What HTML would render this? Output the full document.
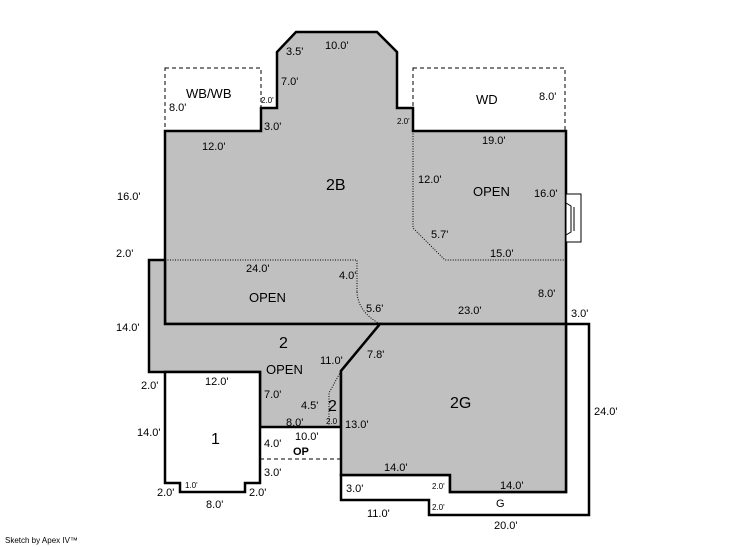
<!DOCTYPE html>
<html><head><meta charset="utf-8"><style>
html,body{margin:0;padding:0;background:#fff;}
svg{display:block;}
text{font-family:"Liberation Sans",Arial,sans-serif;fill:#000;}
.s{font-size:11px;}
.t{font-size:8px;}
.b{font-size:16px;}
</style></head><body>
<svg width="746" height="547" viewBox="0 0 746 547" xmlns="http://www.w3.org/2000/svg">
<rect x="165" y="68" width="96" height="63" fill="none" stroke="#000" stroke-width="1" stroke-dasharray="4,3"/>
<rect x="413" y="68" width="152" height="63" fill="none" stroke="#000" stroke-width="1" stroke-dasharray="4,3"/>
<polygon points="566,324 589,324 589,515 429,515 429,500 341,500 341,475 450,475 450,492 566,492" fill="#fff" stroke="#000" stroke-width="2.5"/>
<polygon points="165,131 261,131 261,108 277,108 277,52 296,32 377,32 397,52 397,108 413,108 413,131 566,131 566,324 165,324" fill="#c0c0c0" stroke="#000" stroke-width="2.5"/>
<polygon points="165,324 380,324 341,371 341,427 260,427 260,372 149,372 149,260 165,260" fill="#c0c0c0" stroke="#000" stroke-width="2.5"/>
<polygon points="380,324 566,324 566,492 450,492 450,475 341,475 341,371" fill="#c0c0c0" stroke="#000" stroke-width="2.5"/>
<polygon points="165,372 260,372 260,483 245,483 245,492 180,492 180,483 165,483" fill="#fff" stroke="#000" stroke-width="2.5"/>
<line x1="260" y1="459" x2="341" y2="459" stroke="#000" stroke-width="1" stroke-dasharray="4,3"/>
<g fill="none" stroke="#000" stroke-width="1" stroke-dasharray="1,1.5">
<polyline points="413,131 413,228 445,260 565,260"/>
<polyline points="165,260 357,260 357,292"/>
<path d="M357,292 Q358,312 380,324"/>
<polyline points="329,427 329,393 341,371"/>
</g>
<rect x="566" y="194" width="15" height="48" fill="#fff" stroke="#000" stroke-width="1"/>
<polyline points="566,203 571,206 571,232 566,235" fill="none" stroke="#000" stroke-width="1"/>
<line x1="574" y1="207" x2="574" y2="231" stroke="#000" stroke-width="1"/>
<text class="s" x="286" y="55">3.5'</text>
<text class="s" x="325" y="49">10.0'</text>
<text class="s" x="281" y="85">7.0'</text>
<text x="186" y="98" style="font-size:13px">WB/WB</text>
<text class="s" x="169" y="111">8.0'</text>
<text class="t" x="261" y="103">2.0'</text>
<text class="t" x="397" y="124">2.0'</text>
<text class="s" x="264" y="130">3.0'</text>
<text x="476" y="104" style="font-size:13px">WD</text>
<text class="s" x="539" y="100">8.0'</text>
<text class="s" x="202" y="150">12.0'</text>
<text class="s" x="482" y="144">19.0'</text>
<text class="s" x="117" y="200">16.0'</text>
<text class="b" x="326" y="190">2B</text>
<text class="s" x="418" y="183">12.0'</text>
<text x="473" y="196" style="font-size:13px">OPEN</text>
<text class="s" x="534" y="197">16.0'</text>
<text class="s" x="431" y="238">5.7'</text>
<text class="s" x="490" y="257">15.0'</text>
<text class="s" x="116" y="257">2.0'</text>
<text class="s" x="246" y="272">24.0'</text>
<text class="s" x="339" y="279">4.0'</text>
<text x="249" y="302" style="font-size:13px">OPEN</text>
<text class="s" x="366" y="312">5.6'</text>
<text class="s" x="538" y="297">8.0'</text>
<text class="s" x="458" y="314">23.0'</text>
<text class="s" x="571" y="317">3.0'</text>
<text class="s" x="116" y="331">14.0'</text>
<text class="b" x="279" y="348">2</text>
<text class="s" x="320" y="364">11.0'</text>
<text class="s" x="367" y="358">7.8'</text>
<text x="266" y="374" style="font-size:13px">OPEN</text>
<text class="s" x="141" y="389">2.0'</text>
<text class="s" x="205" y="385">12.0'</text>
<text class="s" x="264" y="398">7.0'</text>
<text class="s" x="301" y="409">4.5'</text>
<text class="b" x="328" y="411">2</text>
<text class="b" x="450" y="408">2G</text>
<text class="s" x="594" y="415">24.0'</text>
<text class="s" x="286" y="426">8.0'</text>
<text class="t" x="326" y="424">2.0</text>
<text class="s" x="345" y="428">13.0'</text>
<text class="s" x="137" y="436">14.0'</text>
<text x="211" y="444" style="font-size:16px">1</text>
<text class="s" x="295" y="440">10.0'</text>
<text class="s" x="264" y="447">4.0'</text>
<text x="293" y="455" style="font-size:11px;font-weight:bold">OP</text>
<text class="s" x="264" y="476">3.0'</text>
<text class="s" x="384" y="471">14.0'</text>
<text class="t" x="185" y="488">1.0'</text>
<text class="s" x="157" y="496">2.0'</text>
<text class="s" x="249" y="496">2.0'</text>
<text class="s" x="346" y="492">3.0'</text>
<text class="t" x="432" y="489">2.0'</text>
<text class="s" x="500" y="489">14.0'</text>
<text class="s" x="496" y="507">G</text>
<text class="s" x="206" y="508">8.0'</text>
<text class="t" x="432" y="510">2.0'</text>
<text class="s" x="367" y="517">11.0'</text>
<text class="s" x="494" y="529">20.0'</text>
<text x="5" y="543" style="font-size:8px">Sketch by Apex IV™</text>
</svg>
</body></html>
